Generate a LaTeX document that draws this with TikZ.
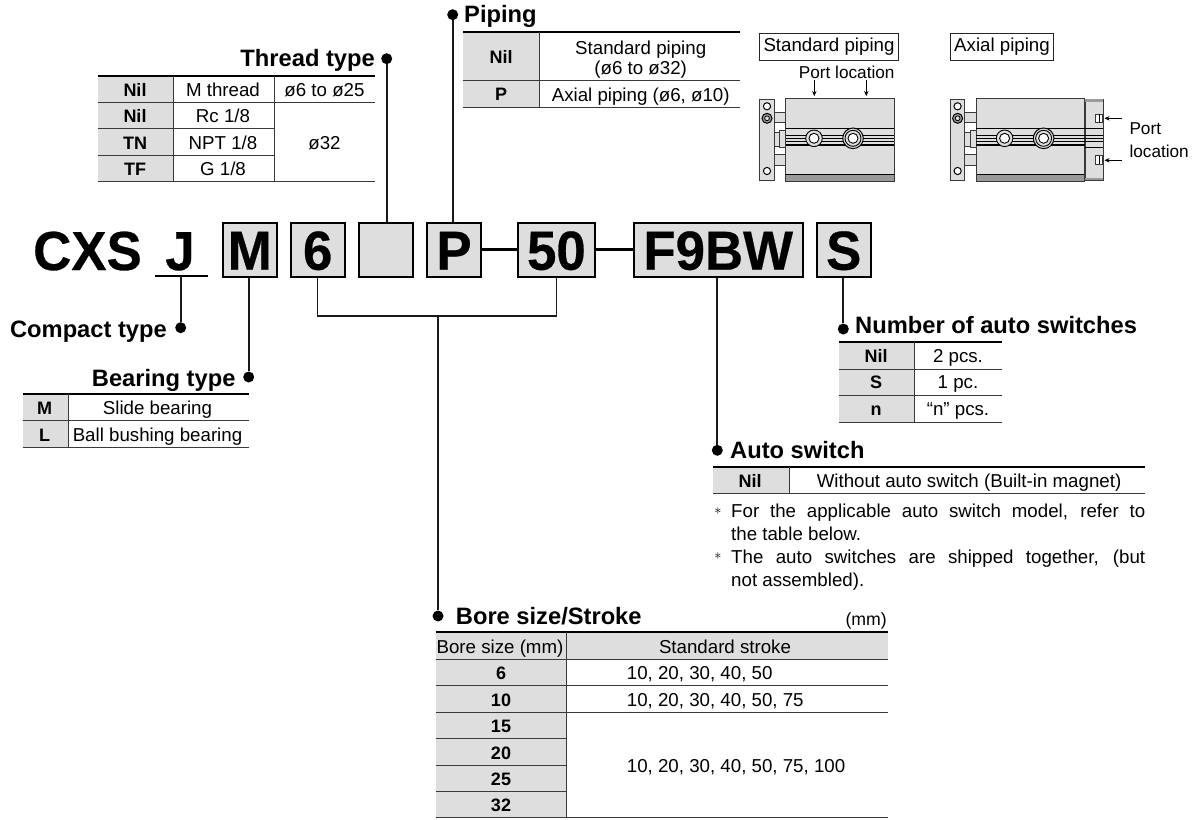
\documentclass[tikz,border=0pt]{standalone}
\usepackage{xcolor}
\usepackage{fontspec}
\setmainfont{Liberation Sans}
\newfontfamily\codefont{Liberation Sans Bold}[FakeBold=0.5,FakeStretch=0.96]
\usepackage{tikz}
\usetikzlibrary{arrows.meta,positioning}
\definecolor{PanelGray}{HTML}{DEDEDE}
\definecolor{BandGray}{HTML}{9A9A9A}
\definecolor{RuleDark}{HTML}{3A3A3A}
\tikzset{
  codebox/.style={draw=black,fill=PanelGray,text=black,line width=1.8pt,minimum height=54pt,
    inner sep=0pt,text height=40pt,text depth=0pt,font=\fontsize{55}{55}\codefont},
  codetext/.style={inner sep=0pt,anchor=base,text=black,font=\fontsize{55}{55}\codefont},
  headW/.style={inner sep=0pt,anchor=base west,font=\fontsize{23.7}{26}\selectfont\bfseries},
  headE/.style={inner sep=0pt,anchor=base east,font=\fontsize{23.7}{26}\selectfont\bfseries},
  keycell/.style={inner sep=0pt,text height=13pt,text depth=0pt,font=\fontsize{18}{20}\selectfont\bfseries},
  valcell/.style={inner sep=0pt,text height=13pt,text depth=0pt,font=\fontsize{18.7}{20}\selectfont},
  valleft/.style={valcell,anchor=west},
  notetext/.style={inner sep=0pt,anchor=north west,text width=414pt,align=justify,
    font=\fontsize{18.7}{23}\selectfont},
  notemark/.style={inner sep=0pt,font=\fontsize{14}{14}\selectfont},
  tagbox/.style={draw=black!85,line width=0.9pt,inner sep=0pt,minimum height=26.7pt,
    font=\fontsize{18.7}{20}\selectfont},
  porttext/.style={inner sep=0pt,font=\fontsize{17.2}{20}\selectfont},
  dotmark/.style={circle,fill=black,inner sep=0pt,minimum size=11pt},
  leadline/.style={line width=1.8pt,draw=black!90},
  jointline/.style={line width=3pt,draw=black},
  thickrule/.style={line width=2pt,draw=black},
  thinrule/.style={line width=1pt,draw=RuleDark},
  portarrow/.style={line width=0.6pt,-{Stealth[length=5pt,width=4.5pt]}},
  outline/.style={draw=RuleDark,line width=1pt},
}
\begin{document}
\begin{tikzpicture}[x=1pt,y=-1pt]
  \useasboundingbox (0,0) rectangle (1198,819);
  % ordering code
  \node[codetext] (cxs) at (87.5,270) {CXS};
  \node[codetext] (jtxt) at (180,270) {J};
  \coordinate (jleft) at (155,276);
  \coordinate (jright) at (207.7,276);
  \draw[line width=1.2pt] (jleft) -- (jright);
  \node[codebox,minimum width=54pt] (boxM) at (249.7,249.7) {M};
  \node[codebox,minimum width=54pt] (box6) at (317.7,249.7) {6};
  \node[codebox,minimum width=54pt] (boxT) at (386,249.7) {};
  \node[codebox,minimum width=54pt] (boxP) at (454,249.7) {P};
  \node[codebox,minimum width=76.5pt] (box50) at (556.4,249.7) {50};
  \node[codebox,minimum width=169pt] (boxF) at (718.2,249.7) {F9BW};
  \node[codebox,minimum width=54pt] (boxS) at (843.7,249.7) {S};
  \draw[jointline] (boxP) -- (box50);
  \draw[jointline] (box50) -- (boxF);

  % lead dots
  \node[dotmark] (dotC) at (180.7,327.7) {};
  \node[dotmark] (dotB) at (248.7,377) {};
  \node[dotmark] (dotT) at (386.7,58.7) {};
  \node[dotmark] (dotP) at (452.7,14.7) {};
  \node[dotmark] (dotN) at (843.3,329) {};
  \node[dotmark] (dotA) at (717.3,450.3) {};
  \node[dotmark] (dotD) at (438,616) {};
  \coordinate (jfoot) at (180.7,276);
  \coordinate (bend) at (438,316);
  \draw[leadline] (jfoot) -- (dotC);
  \draw[leadline] (dotB) -- (dotB |- boxM.south);
  \draw[leadline] (dotT) -- (dotT |- boxT.north);
  \draw[leadline] (dotP) -- (dotP |- boxP.north);
  \draw[leadline] (dotN) -- (dotN |- boxS.south);
  \draw[leadline] (dotA) -- (dotA |- boxF.south);
  \draw[leadline,line width=1.4pt] (box6.south) |- (bend) -| (box50.south);
  \draw[leadline] (bend) -- (dotD);

  % compact type
  \node[headE] (hCompact) at (167,337) {Compact type};

  % bearing type
  \node[headE] (hBearing) at (235.7,386.7) {Bearing type};
  \fill[PanelGray] (22.7,394) rectangle (68,447);
  \draw[thickrule] (22.7,394) -- (249,394);
  \draw[thinrule] (22.7,420.7) -- (249,420.7);
  \draw[thinrule] (22.7,447) -- (249,447);
  \draw[thinrule] (68,394) -- (68,447);
  \node[keycell] (bearK1) at (44.5,408) {M};
  \node[keycell] (bearK2) at (44.5,434.5) {L};
  \node[valcell] (bearV1) at (157.5,408) {Slide bearing};
  \node[valcell] (bearV2) at (157.5,434.5) {Ball bushing bearing};

  % thread type
  \node[headE] (hThread) at (375,66) {Thread type};
  \fill[PanelGray] (98,76) rectangle (173.3,181);
  \draw[thickrule] (98,76) -- (375,76);
  \draw[thinrule] (98,102) -- (375,102);
  \draw[thinrule] (98,128.7) -- (274.3,128.7);
  \draw[thinrule] (98,155) -- (274.3,155);
  \draw[thinrule] (98,181) -- (375,181);
  \draw[thinrule] (173.3,76) -- (173.3,181);
  \draw[thinrule] (274.3,76) -- (274.3,181);
  \node[keycell] (thrK1) at (135,90) {Nil};
  \node[keycell] (thrK2) at (135,116.4) {Nil};
  \node[keycell] (thrK3) at (135,142.9) {TN};
  \node[keycell] (thrK4) at (135,169) {TF};
  \node[valcell] (thrV1) at (223,90) {M thread};
  \node[valcell] (thrV2) at (223,116.4) {Rc 1/8};
  \node[valcell] (thrV3) at (223,142.9) {NPT 1/8};
  \node[valcell] (thrV4) at (223,169) {G 1/8};
  \node[valcell] (thrD1) at (324.5,90) {ø6 to ø25};
  \node[valcell] (thrD2) at (324.5,142.9) {ø32};

  % piping
  \node[headW] (hPiping) at (464,22) {Piping};
  \fill[PanelGray] (463.3,32.3) rectangle (539,107.3);
  \draw[thickrule] (463.3,32.3) -- (740,32.3);
  \draw[thinrule] (463.3,80) -- (740,80);
  \draw[thinrule] (463.3,107.3) -- (740,107.3);
  \draw[thinrule] (539,32.3) -- (539,107.3);
  \node[keycell] (pipK1) at (501,57) {Nil};
  \node[keycell] (pipK2) at (501,94) {P};
  \node[valcell] (pipV1) at (640.7,48) {Standard piping};
  \node[valcell] (pipV2) at (640.7,68) {(ø6 to ø32)};
  \node[valcell] (pipV3) at (640.7,94.5) {Axial piping (ø6, ø10)};

  % cylinders
  \foreach \ox in {0,190.6} {
    \begin{scope}[shift={(\ox,0)}]
      \fill[PanelGray] (774.3,112.3) rectangle (785.7,122.7);
      \fill[PanelGray] (774.3,154.3) rectangle (785.7,165);
      \draw[outline] (774.3,112.3) -- (785.7,112.3);
      \draw[outline] (774.3,122.7) -- (785.7,122.7);
      \draw[outline] (774.3,154.3) -- (785.7,154.3);
      \draw[outline] (774.3,165) -- (785.7,165);
      \draw[outline,fill=PanelGray] (774.3,132) rectangle (779.5,146);
      \draw[outline,fill=PanelGray] (779.5,130) rectangle (785.7,147.7);
      \draw[outline,fill=PanelGray] (759.7,99.3) rectangle (774.3,180);
      \draw[outline,fill=PanelGray] (785.7,98) rectangle (894.3,181);
      \fill[BandGray] (785.7,174.3) rectangle (894.3,181);
      \draw[line width=1pt] (785.7,174.3) -- (894.3,174.3);
      \draw[outline] (785.7,98) rectangle (894.3,181);
      \draw[line width=0.9pt] (785.7,128.3) -- (894.3,128.3);
      \draw[line width=0.7pt] (785.7,135.7) -- (894.3,135.7);
      \draw[line width=0.7pt] (785.7,138) -- (894.3,138);
      \draw[line width=0.7pt] (785.7,141.7) -- (894.3,141.7);
      \draw[line width=1.1pt] (785.7,145) -- (894.3,145);
      \draw[line width=1pt,fill=white] (767,106.3) circle (3.6);
      \draw[line width=1pt,fill=BandGray] (767,118.3) circle (5);
      \draw[line width=0.8pt,fill=PanelGray] (767,118.3) circle (2.4);
      \draw[line width=1pt,fill=white] (767,171) circle (3.6);
      \draw[line width=0.9pt,fill=PanelGray] (814,138.3) circle (8.3);
      \draw[line width=0.9pt,fill=white] (814,138.3) circle (5);
      \draw[line width=1pt,fill=PanelGray] (853,138.3) circle (10.3);
      \draw[line width=0.9pt,fill=PanelGray] (853,138.3) circle (8);
      \draw[line width=0.9pt,fill=white] (853,138.3) circle (5);
    \end{scope}
  }

  % axial end cap
  \draw[outline,fill=PanelGray] (1085,99) rectangle (1103.3,180.3);
  \fill[BandGray] (1085,99) rectangle (1103.3,101.5);
  \fill[BandGray] (1085,177.5) rectangle (1103.3,180.3);
  \draw[line width=0.9pt] (1085,128.3) -- (1103.3,128.3);
  \draw[line width=0.7pt] (1085,135.7) -- (1103.3,135.7);
  \draw[line width=0.7pt] (1085,138) -- (1103.3,138);
  \draw[line width=0.7pt] (1085,141.7) -- (1103.3,141.7);
  \draw[line width=1.1pt] (1085,147.7) -- (1103.3,147.7);
  \draw[outline,fill=white] (1095.3,114) rectangle (1102.7,122.7);
  \draw[outline,fill=white] (1095.3,155.7) rectangle (1102.7,164);
  \draw[line width=0.7pt] (1099.3,114) -- (1099.3,122.7);
  \draw[line width=0.7pt] (1099.3,155.7) -- (1099.3,164);

  % piping labels
  \node[tagbox,minimum width=138.6pt] (tagStd) at (829,46.7) {Standard piping};
  \node[tagbox,minimum width=103.4pt] (tagAx) at (1002,46.7) {Axial piping};
  \node[porttext] (portTop) at (846.7,72) {Port location};
  \node[porttext,anchor=west] (portA) at (1129.3,129) {Port};
  \node[porttext,anchor=west] (portB) at (1129.3,151) {location};
  \coordinate (arrS1) at (814.3,80);
  \coordinate (arrE1) at (814.3,96);
  \coordinate (arrS2) at (866.3,80);
  \coordinate (arrE2) at (866.3,96);
  \coordinate (arrS3) at (1121.7,118.3);
  \coordinate (arrE3) at (1104.5,118.3);
  \coordinate (arrS4) at (1121.7,160.3);
  \coordinate (arrE4) at (1104.5,160.3);
  \draw[portarrow] (arrS1) -- (arrE1);
  \draw[portarrow] (arrS2) -- (arrE2);
  \draw[portarrow] (arrS3) -- (arrE3);
  \draw[portarrow] (arrS4) -- (arrE4);

  % number of auto switches
  \node[headW] (hNumber) at (855,333) {Number of auto switches};
  \fill[PanelGray] (839,342.3) rectangle (914.3,422);
  \draw[thickrule] (839,342.3) -- (1002.3,342.3);
  \draw[thinrule] (839,369) -- (1002.3,369);
  \draw[thinrule] (839,395.3) -- (1002.3,395.3);
  \draw[thinrule] (839,422) -- (1002.3,422);
  \draw[thinrule] (914.3,342.3) -- (914.3,422);
  \node[keycell] (numK1) at (876,356) {Nil};
  \node[keycell] (numK2) at (876,382) {S};
  \node[keycell] (numK3) at (876,408.7) {n};
  \node[valcell] (numV1) at (958,356) {2 pcs.};
  \node[valcell] (numV2) at (958,382) {1 pc.};
  \node[valcell] (numV3) at (958,408.7) {“n” pcs.};

  % auto switch
  \node[headW] (hAuto) at (730,458) {Auto switch};
  \fill[PanelGray] (713.3,466.7) rectangle (789,493.3);
  \draw[thickrule] (713.3,466.7) -- (1145,466.7);
  \draw[thinrule] (713.3,493.3) -- (1145,493.3);
  \draw[thinrule] (789,466.7) -- (789,493.3);
  \node[keycell] (autoK) at (750,481) {Nil};
  \node[valcell] (autoV) at (969,481) {Without auto switch (Built-in magnet)};
  \node[notemark] (markA) at (718,511) {$*$};
  \node[notemark] (markB) at (718,556.5) {$*$};
  \node[notetext] (noteA) at (731,504) {For the applicable auto switch model, refer to\linebreak the table below.};
  \node[notetext] (noteB) at (731,549.5) {The auto switches are shipped together, (but\linebreak not assembled).};

  % bore size and stroke
  \node[headW] (hBore) at (455.7,624) {Bore size/Stroke};
  \node[inner sep=0pt,anchor=base east,font=\fontsize{17.7}{20}\selectfont] (unitmm) at (887,625) {(mm)};
  \fill[PanelGray] (435.7,632.3) rectangle (888,659);
  \fill[PanelGray] (435.7,659) rectangle (566,817.3);
  \draw[thickrule] (435.7,632.3) -- (888,632.3);
  \draw[thinrule] (435.7,659) -- (888,659);
  \draw[thinrule] (435.7,685.7) -- (888,685.7);
  \draw[thinrule] (435.7,712) -- (888,712);
  \draw[thinrule] (435.7,738) -- (566,738);
  \draw[thinrule] (435.7,765) -- (566,765);
  \draw[thinrule] (435.7,791) -- (566,791);
  \draw[thinrule] (435.7,817.3) -- (888,817.3);
  \draw[thinrule] (566,632.3) -- (566,817.3);
  \node[valcell] (boreHead) at (500,647) {Bore size (mm)};
  \node[valcell] (strokeHead) at (725,647) {Standard stroke};
  \foreach \ypos/\bore in {673/6,699.5/10,726/15,752.5/20,779/25,805/32} {
    \node[keycell] (bore\bore) at (501,\ypos) {\bore};
  }
  \node[valleft] (strokeA) at (626.7,673) {10, 20, 30, 40, 50};
  \node[valleft] (strokeB) at (626.7,699.5) {10, 20, 30, 40, 50, 75};
  \node[valleft] (strokeC) at (626.7,766) {10, 20, 30, 40, 50, 75, 100};
\end{tikzpicture}
\end{document}
